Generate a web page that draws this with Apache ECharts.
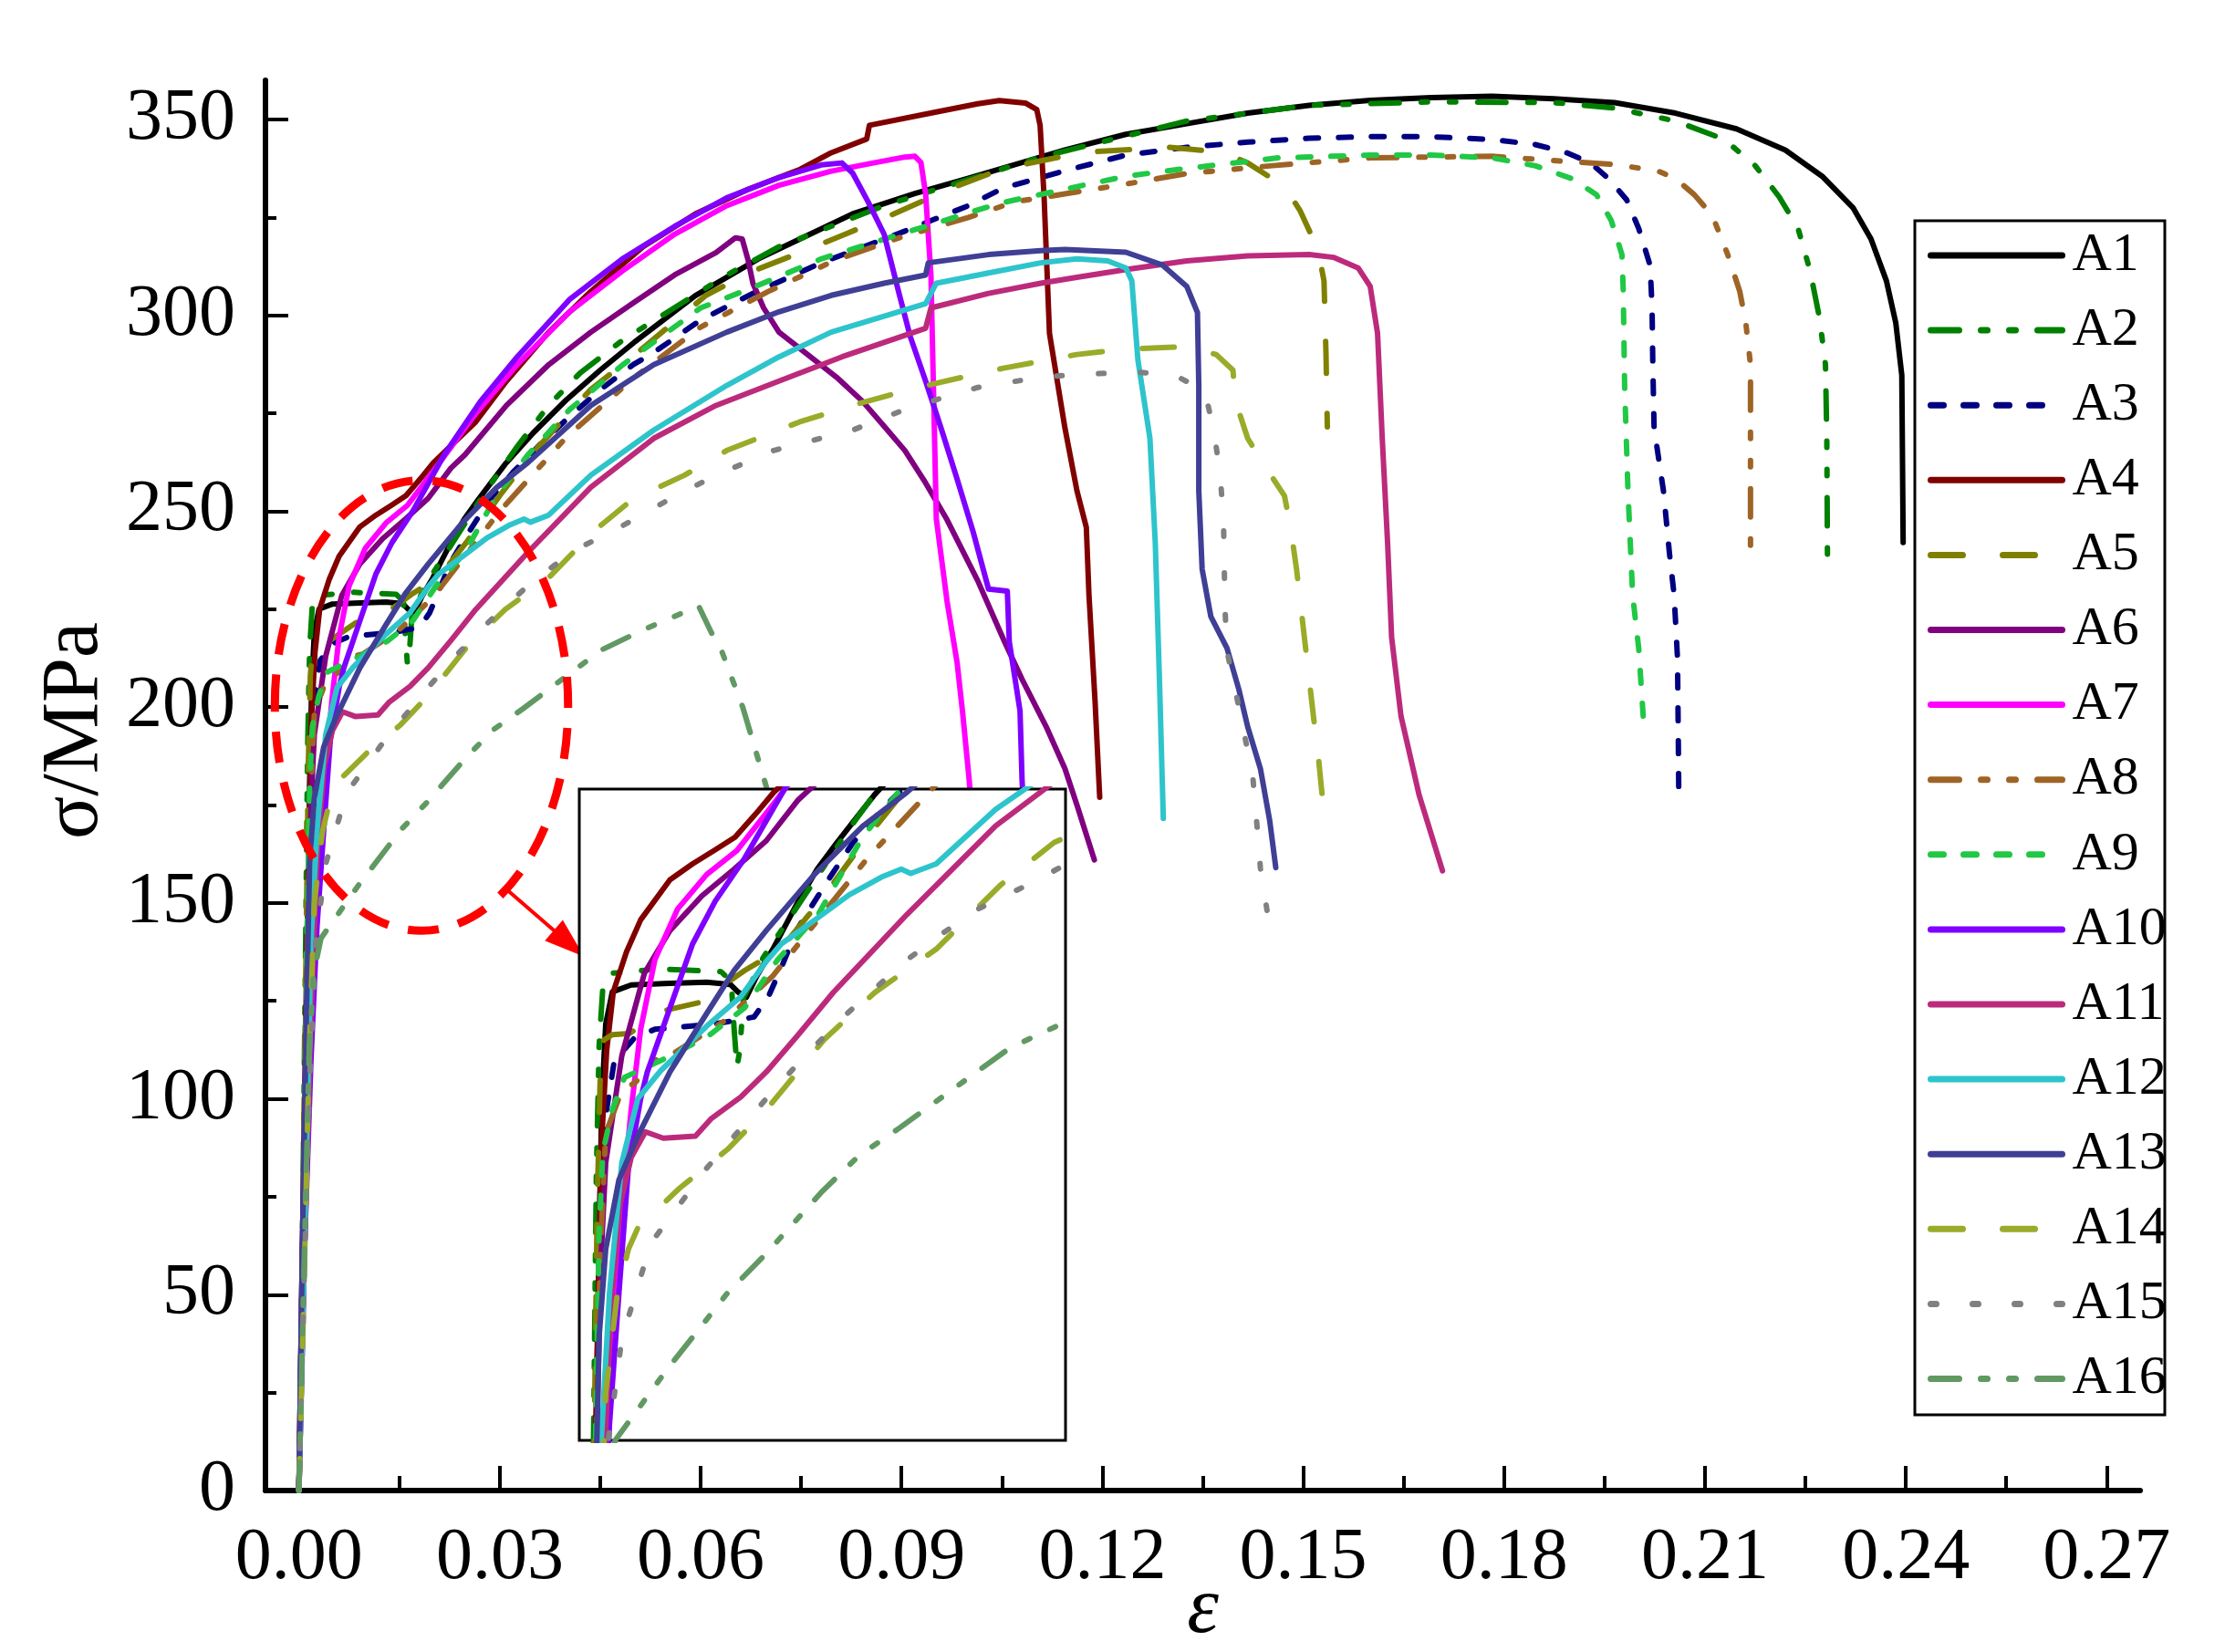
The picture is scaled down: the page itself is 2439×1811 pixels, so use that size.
<!DOCTYPE html>
<html>
<head>
<meta charset="utf-8">
<script src="https://cdn.jsdelivr.net/npm/echarts@6/dist/echarts.min.js"></script>
<style>
html, body { margin: 0; padding: 0; background: #fff; }
#chart { width: 2439px; height: 1811px; }
</style>
</head>
<body>
<div id="chart"></div>
<script>
// [strain ε, stress σ (MPa)]
const a1 = [[0,0],[0.0006,60],[0.0012,130],[0.0016,180],[0.0019,205],[0.0023,219],[0.003,225],[0.005,226.3],[0.009,226.6],[0.013,226.8],[0.0155,226.4],[0.0163,225],[0.0172,224],[0.0183,228],[0.02,233],[0.0227,242],[0.0247,248],[0.0268,253],[0.0288,257.5],[0.0308,262],[0.035,270],[0.04,278.5],[0.045,286],[0.05,293],[0.0592,305],[0.0686,314.4],[0.0827,325.9],[0.092,331.1],[0.1,335],[0.1144,342.2],[0.1235,346.2],[0.1326,348.9],[0.1417,351.6],[0.1509,353.6],[0.16,354.9],[0.1691,355.6],[0.1782,355.9],[0.1874,355.3],[0.1965,354.3],[0.2056,351.6],[0.2147,347.6],[0.222,342.2],[0.2275,335.5],[0.2321,327.5],[0.2348,319.5],[0.2371,308.8],[0.2385,298.1],[0.2394,284.7],[0.2396,242]];
const a2 = [[0,0],[0.0005,60],[0.001,140],[0.0013,190],[0.0016,215],[0.002,226],[0.003,228.5],[0.008,229.3],[0.0145,228.8],[0.0156,227],[0.0159,218],[0.0162,211],[0.0165,214],[0.0169,224],[0.0178,227],[0.019,231.5],[0.0232,242.6],[0.0279,255.1],[0.0326,266.5],[0.0373,277],[0.042,285.3],[0.0483,293.6],[0.0639,310.3],[0.0717,317.5],[0.0874,328],[0.1108,340.4],[0.1326,349.6],[0.1509,353.6],[0.1691,354.5],[0.1874,354.3],[0.1965,352.9],[0.2056,349.6],[0.2129,344.9],[0.2175,338.2],[0.2211,330.2],[0.2239,322.2],[0.2257,311.4],[0.2271,299.4],[0.228,287.4],[0.2282,268.6],[0.2283,237]];
const a3 = [[0,0],[0.0006,60],[0.0012,130],[0.0018,185],[0.0024,203],[0.0032,212],[0.0054,216.5],[0.0075,218],[0.0126,218.8],[0.0145,219.2],[0.018,220.3],[0.0195,224],[0.021,230],[0.0225,236.5],[0.0255,245],[0.0285,253],[0.032,260],[0.036,267],[0.04,273.5],[0.045,281],[0.05,287.5],[0.053,290.5],[0.06,298.8],[0.0678,305.6],[0.078,313.4],[0.0905,321.5],[0.1,328],[0.1052,332.5],[0.1144,336.9],[0.1235,340.9],[0.1326,342.9],[0.1417,344.2],[0.1509,345.2],[0.16,345.6],[0.1691,345.6],[0.1782,344.9],[0.1846,343.6],[0.1892,341.6],[0.1929,338.9],[0.1956,334.9],[0.1983,329.5],[0.2001,322.2],[0.2018,312.8],[0.2021,302.1],[0.2022,288.7],[0.2024,271.3],[0.2038,255.2],[0.2047,239.2],[0.2054,228.5],[0.2059,212.4],[0.206,195],[0.2061,176]];
const a4 = [[0,0],[0.0005,60],[0.0012,140],[0.0018,195],[0.0024,214],[0.0031,225],[0.0045,232.5],[0.006,238.5],[0.0091,246],[0.0115,249],[0.0138,251.5],[0.016,254],[0.0185,259],[0.0201,262.4],[0.0264,272.8],[0.031,283.2],[0.0373,295.7],[0.0436,306.1],[0.0514,317.5],[0.0592,325.9],[0.067,332.1],[0.0749,337.3],[0.0795,341.5],[0.0848,345],[0.0852,348.5],[0.0952,351.9],[0.1014,354],[0.1046,354.8],[0.1085,354.2],[0.1102,352.5],[0.1107,348.5],[0.1113,330],[0.1121,295.4],[0.1144,271.3],[0.1162,255.2],[0.1176,245.9],[0.118,228.5],[0.1189,201.7],[0.1196,177]];
const a5 = [[0,0],[0.0005,60],[0.001,130],[0.0014,185],[0.0017,208],[0.0021,216],[0.003,217],[0.0048,217.2],[0.0085,221.5],[0.0122,223],[0.017,229],[0.0208,233],[0.025,242],[0.03,254],[0.035,265],[0.0436,281.1],[0.0498,289.4],[0.0608,305.1],[0.0678,311.3],[0.0741,315.5],[0.082,321],[0.089,326],[0.0975,332.5],[0.1052,337.5],[0.1171,341.6],[0.1299,342.9],[0.1381,341.6],[0.1417,338.9],[0.1472,332.9],[0.1495,326.8],[0.1522,316.8],[0.1531,308.8],[0.1534,290],[0.1536,271.5]];
const a6 = [[0,0],[0.0005,60],[0.0012,130],[0.0018,175],[0.0023,193],[0.004,213],[0.0064,228.5],[0.0091,236.5],[0.0125,243],[0.0159,248],[0.0193,253.3],[0.0227,261],[0.0248,264.4],[0.031,277],[0.0373,287.4],[0.0436,295.7],[0.0498,303],[0.0561,310.3],[0.0623,316],[0.0652,319.8],[0.0662,319.5],[0.0671,314],[0.0678,308.2],[0.0694,301.9],[0.0717,295.7],[0.0764,289.4],[0.0803,284.2],[0.0842,278],[0.0874,271.7],[0.0905,265.5],[0.0936,257.2],[0.0968,247.8],[0.1014,232.2],[0.1054,216.6],[0.108,207.1],[0.1116,195],[0.1144,184.3],[0.1162,175],[0.1188,161]];
const a7 = [[0,0],[0.0008,60],[0.0016,110],[0.0025,150],[0.004,185],[0.005,203],[0.006,218],[0.0075,231],[0.0099,240.5],[0.013,247],[0.0162,251.5],[0.0201,260.3],[0.0264,274.9],[0.0326,287.4],[0.0404,300.9],[0.0483,311.3],[0.0561,320.7],[0.0639,328],[0.0717,333.2],[0.0795,336.8],[0.0858,338.9],[0.0905,340.4],[0.092,340.6],[0.0929,339],[0.0936,331],[0.0944,310],[0.0948,279],[0.0952,248],[0.0968,227],[0.0983,211.4],[0.0991,199],[0.1001,181.5],[0.1008,165],[0.1012,150]];
const a8 = [[0,0],[0.0006,60],[0.0012,130],[0.0017,175],[0.0023,198.5],[0.004,206.5],[0.0054,208],[0.008,213],[0.0095,213.5],[0.0149,219.6],[0.02,228],[0.025,239],[0.03,250],[0.04,269],[0.05,284],[0.06,297],[0.07,306],[0.08,314],[0.09,320],[0.1,325],[0.107,329],[0.1144,331],[0.1235,333.5],[0.1326,336.2],[0.1454,338.2],[0.16,340.2],[0.1782,340.6],[0.1874,339.5],[0.1965,338.5],[0.2029,336.9],[0.2056,334.9],[0.2084,330.8],[0.2111,325.5],[0.2134,315.5],[0.2152,306.1],[0.2161,298.1],[0.2168,287.4],[0.2168,268.6],[0.2168,240.5]];
const a9 = [[0,0],[0.0006,60],[0.0012,140],[0.0016,180],[0.002,195],[0.003,203],[0.0043,209],[0.0088,212.7],[0.0132,216.8],[0.017,222],[0.0205,231],[0.0248,239.5],[0.0295,254],[0.0342,264.4],[0.0404,275.9],[0.0483,287.3],[0.06,301.9],[0.0678,307.1],[0.078,314.4],[0.0858,318.6],[0.0936,322.7],[0.1014,326.9],[0.1052,328.8],[0.1144,332.2],[0.1235,335.5],[0.1326,337.5],[0.1463,340.2],[0.16,340.9],[0.1691,340.9],[0.1782,340.2],[0.1846,338.2],[0.1901,334.9],[0.1938,330.8],[0.196,324.2],[0.1976,315.5],[0.1978,306.1],[0.198,282],[0.1985,255.2],[0.1992,228.5],[0.2001,215.1],[0.2008,197]];
const a10 = [[0,0],[0.0008,60],[0.0018,110],[0.0027,144],[0.0037,168.6],[0.0047,192],[0.006,205],[0.0067,210],[0.0091,222],[0.0115,234],[0.0139,242],[0.017,250],[0.0217,264.4],[0.0271,278],[0.0326,289.4],[0.0404,304],[0.0483,314.4],[0.0561,322.7],[0.0639,330],[0.0717,335.2],[0.078,338.4],[0.0811,338.9],[0.0827,336.3],[0.085,329],[0.0874,320.7],[0.0897,305.1],[0.0913,294.6],[0.0936,283.2],[0.096,270.7],[0.0983,258.2],[0.1007,244.7],[0.103,230.1],[0.1058,229.6],[0.1061,216.6],[0.1077,199],[0.108,181.5],[0.1085,165],[0.109,150]];
const a11 = [[0,0],[0.0008,60],[0.0018,120],[0.0028,165],[0.0038,185],[0.005,194],[0.0065,198.8],[0.0084,197.6],[0.0118,198],[0.0135,201.3],[0.0166,205.3],[0.0193,210],[0.0227,217],[0.0264,224.9],[0.0342,239.5],[0.0436,256.1],[0.053,268.6],[0.0623,277],[0.0717,283.2],[0.0811,289.4],[0.0936,296.7],[0.0944,301.9],[0.103,305.6],[0.1108,308.2],[0.1162,309.7],[0.1235,311.7],[0.1326,313.9],[0.1417,315.2],[0.1509,315.5],[0.1545,314.8],[0.1582,312.1],[0.16,307.4],[0.1611,295.4],[0.1618,268.6],[0.1626,241.9],[0.1632,217.8],[0.1646,197.7],[0.1673,177.6],[0.1708,158.2]];
const a12 = [[0,0],[0.0008,60],[0.0018,140],[0.0027,168.6],[0.004,193],[0.0057,205],[0.0081,210.2],[0.0105,214.3],[0.013,218.6],[0.0166,224.1],[0.0193,230.7],[0.0209,234],[0.0247,238.8],[0.0281,243.2],[0.0315,246.5],[0.0336,248],[0.0346,247.2],[0.0373,249],[0.0436,259.2],[0.053,270.7],[0.0639,282.1],[0.0717,289.4],[0.0795,295.7],[0.0874,299.8],[0.0936,303],[0.0952,308.2],[0.103,310.8],[0.1108,313.4],[0.1162,314.4],[0.1208,313.9],[0.1235,312.1],[0.1244,308.8],[0.1253,288.7],[0.1271,268.6],[0.1279,241.9],[0.1285,208.4],[0.1291,171.6]];
const a13 = [[0,0],[0.0005,60],[0.0011,120],[0.0016,160.4],[0.0023,176.8],[0.0037,189.8],[0.0057,198],[0.0091,210],[0.013,221],[0.0159,229],[0.0193,236.5],[0.0244,247],[0.0295,256],[0.0342,262.4],[0.0436,277],[0.053,287.4],[0.0639,295.7],[0.0717,300.9],[0.0795,305.1],[0.0874,308.2],[0.0936,310.3],[0.094,313.4],[0.103,315.5],[0.1108,316.5],[0.1144,316.8],[0.1235,316.1],[0.129,312.8],[0.1326,307.4],[0.1342,300.7],[0.1344,282],[0.1344,255.2],[0.1349,235.2],[0.1362,223.1],[0.1386,215.1],[0.1404,204.4],[0.1417,195],[0.1436,184.3],[0.145,170.9],[0.1459,159]];
const a14 = [[0,0],[0.0008,55],[0.0015,110],[0.0023,150],[0.0035,168],[0.0047,176.8],[0.0057,180.8],[0.0101,188.2],[0.0152,195.5],[0.0193,202.9],[0.0254,216],[0.0308,224.9],[0.0373,233],[0.0441,245],[0.0498,253],[0.0576,259.2],[0.0639,265.5],[0.0748,272.8],[0.0827,277],[0.0913,281.1],[0.0991,284.2],[0.1052,286.5],[0.1162,290],[0.1235,291.4],[0.1326,292],[0.137,290],[0.1395,286],[0.1399,278],[0.1417,268.6],[0.1436,263.3],[0.1472,253.9],[0.1481,245.9],[0.149,235.2],[0.1499,221.8],[0.1508,208.4],[0.1517,195],[0.1522,188.3],[0.1532,171]];
const a15 = [[0,0],[0.0008,55],[0.0016,105],[0.0025,140],[0.004,160],[0.0071,178],[0.013,192],[0.0193,205],[0.0234,213],[0.0279,221],[0.0342,231],[0.038,236],[0.0417,240.5],[0.0475,245.5],[0.0553,253],[0.0623,259.2],[0.0709,265.5],[0.0827,270.7],[0.0913,276.5],[0.1014,281.6],[0.1108,284.2],[0.1162,284.9],[0.1253,285.5],[0.1308,284.7],[0.1353,280.7],[0.1367,270],[0.1376,259.3],[0.1381,247.2],[0.1383,225.8],[0.1386,214.4],[0.14,203.1],[0.1413,192.3],[0.1425,181.6],[0.1431,169.6],[0.1436,158.9],[0.1446,148]];
const a16 = [[0,0],[0.0008,60],[0.0015,110],[0.0022,132],[0.0033,141],[0.0088,154.3],[0.0152,168.6],[0.0193,176],[0.0251,187.4],[0.0291,194.3],[0.0334,199.5],[0.0373,204.5],[0.0451,214.5],[0.0514,219.7],[0.0597,225.8],[0.0616,219],[0.0631,214.5],[0.0647,207.2],[0.0663,199.9],[0.0698,179.7],[0.072,165],[0.074,150]];

const names = ['A1', 'A2', 'A3', 'A4', 'A5', 'A6', 'A7', 'A8', 'A9', 'A10', 'A11', 'A12', 'A13', 'A14', 'A15', 'A16'];
const curves = [a1, a2, a3, a4, a5, a6, a7, a8, a9, a10, a11, a12, a13, a14, a15, a16];

const xTicks = [0, 0.03, 0.06, 0.09, 0.12, 0.15, 0.18, 0.21, 0.24, 0.27];
const xMinorTicks = [0.015, 0.045, 0.075, 0.105, 0.135, 0.165, 0.195, 0.225, 0.255];
const yTicks = [0, 50, 100, 150, 200, 250, 300, 350];
const yMinorTicks = [25, 75, 125, 175, 225, 275, 325];

// line colours and dash patterns (round caps)
const colors = ['#000000', '#008000', '#000080', '#800000', '#808000', '#800080', '#FF00FF', '#9E6425',
                '#20C845', '#8000FF', '#BC2A7C', '#2EC4CC', '#3F3F96', '#9AAB2A', '#808080', '#619963'];
const dashDotDot = [31, 24, 7, 24, 7, 24];
const shortDash = [14, 22];
const longDash = [35, 44];
const dots = [6, 40];
const dashes = ['solid', dashDotDot, shortDash, 'solid', longDash, 'solid', 'solid', dashDotDot,
                shortDash, 'solid', 'solid', 'solid', 'solid', longDash, dots, dashDotDot];

const FONT = 'Liberation Serif';
const chart = echarts.init(document.getElementById('chart'));

const lineStyle = i => ({ color: colors[i], width: 6, type: dashes[i], cap: 'round', join: 'round' });

const series = [];
curves.forEach((d, i) => {
    series.push({
        name: names[i], type: 'line', data: d, symbol: 'none',
        xAxisIndex: 0, yAxisIndex: 0, lineStyle: lineStyle(i), z: 2, silent: true
    });
});
// the same curves again, drawn in the zoomed window
curves.forEach((d, i) => {
    series.push({
        name: names[i], type: 'line', data: d, symbol: 'none',
        xAxisIndex: 2, yAxisIndex: 2, lineStyle: lineStyle(i), z: 11, clip: true, silent: true
    });
});

const tickStyle = { color: '#000', width: 4 };

const option = {
    animation: false,
    backgroundColor: '#fff',
    grid: [
        { left: 291, top: 88, width: 2055, height: 1546, containLabel: false, outerBoundsMode: 'none' },
        { left: 635, top: 865, width: 533, height: 714, show: true, backgroundColor: '#fff',
          borderColor: '#000', borderWidth: 3, z: 10, outerBoundsMode: 'none' }
    ],
    xAxis: [
        {
            gridIndex: 0, type: 'value', min: -0.005, max: 0.275,
            axisLine: { onZero: false, lineStyle: { color: '#000', width: 6 } },
            axisTick: { inside: true, length: 27, lineStyle: tickStyle, customValues: xTicks },
            axisLabel: { customValues: xTicks, formatter: v => v.toFixed(2), margin: 35,
                         color: '#000', fontFamily: FONT, fontSize: 80 },
            splitLine: { show: false },
            name: 'ε', nameLocation: 'middle', nameGap: 88, nameMoveOverlap: false,
            nameTextStyle: { fontFamily: FONT, fontStyle: 'italic', fontSize: 88, color: '#000' }
        },
        {
            gridIndex: 0, type: 'value', min: -0.005, max: 0.275, position: 'bottom',
            axisLine: { show: false, onZero: false }, axisLabel: { show: false }, splitLine: { show: false },
            axisTick: { inside: true, length: 16, lineStyle: tickStyle, customValues: xMinorTicks }
        },
        { gridIndex: 1, type: 'value', min: -0.0005, max: 0.051, show: false, splitLine: { show: false } }
    ],
    yAxis: [
        {
            gridIndex: 0, type: 'value', min: 0, max: 360, position: 'left',
            axisLine: { show: true, onZero: false, lineStyle: { color: '#000', width: 6 } },
            axisTick: { show: true, inside: true, length: 25, lineStyle: tickStyle, customValues: yTicks },
            axisLabel: { customValues: yTicks, margin: 33, color: '#000', fontFamily: FONT, fontSize: 80 },
            splitLine: { show: false },
            name: 'σ/MPa', nameLocation: 'middle', nameGap: 164, nameRotate: 90,
            nameTextStyle: { fontFamily: FONT, fontSize: 88, color: '#000', padding: [0, 0, 0, 120] }
        },
        {
            gridIndex: 0, type: 'value', min: 0, max: 360, position: 'left',
            axisLine: { show: false, onZero: false }, axisLabel: { show: false }, splitLine: { show: false },
            axisTick: { show: true, inside: true, length: 12, lineStyle: tickStyle, customValues: yMinorTicks }
        },
        { gridIndex: 1, type: 'value', min: 141, max: 263, show: false, splitLine: { show: false } }
    ],
    legend: {
        data: names, orient: 'vertical', left: 2099, top: 242,
        itemWidth: 144, itemHeight: 40, itemGap: 22.1,
        padding: [8, 0, 0, 14],
        borderWidth: 0, backgroundColor: 'transparent',
        selectedMode: false, z: 4,
        itemStyle: { color: 'rgba(0,0,0,0)', borderColor: 'rgba(0,0,0,0)', borderWidth: 0 },
        lineStyle: { width: 7 },
        textStyle: { fontFamily: FONT, fontSize: 60, color: '#000', padding: [0, 0, 0, 6] }
    },
    series: series
};
chart.setOption(option);

// red dashed ellipse around the yield region and the arrow to the zoomed window
const toPx = p => chart.convertToPixel({ gridIndex: 0 }, p);
const c = toPx([0.0183, 200.4]);
const e = toPx([0.0183 + 0.0219, 200.4 + 57.5]);
const p0 = toPx([0.0307, 153.9]);
const p1 = toPx([0.0426, 136.3]);
const dx = p1[0] - p0[0], dy = p1[1] - p0[1];
const len = Math.sqrt(dx * dx + dy * dy);
const ux = dx / len, uy = dy / len;
const headLen = 44, headHalf = 15;
const base = [p1[0] - ux * headLen, p1[1] - uy * headLen];

chart.setOption({
    graphic: [
        // legend frame
        { type: 'rect', z: 3, silent: true,
          shape: { x: 2099, y: 242, width: 274, height: 1309 },
          style: { fill: '#fff', stroke: '#000', lineWidth: 3 } },
        { type: 'ellipse', z: 5, silent: true,
          shape: { cx: c[0], cy: c[1], rx: e[0] - c[0], ry: c[1] - e[1] },
          style: { fill: 'none', stroke: '#FF0000', lineWidth: 9, lineDash: [34, 22] } },
        { type: 'line', z: 5, silent: true,
          shape: { x1: p0[0], y1: p0[1], x2: base[0] + ux * 4, y2: base[1] + uy * 4 },
          style: { stroke: '#FF0000', lineWidth: 4 } },
        { type: 'polygon', z: 5, silent: true,
          shape: { points: [p1, [base[0] - uy * headHalf, base[1] + ux * headHalf], [base[0] + uy * headHalf, base[1] - ux * headHalf]] },
          style: { fill: '#FF0000' } }
    ]
});
</script>
</body>
</html>
